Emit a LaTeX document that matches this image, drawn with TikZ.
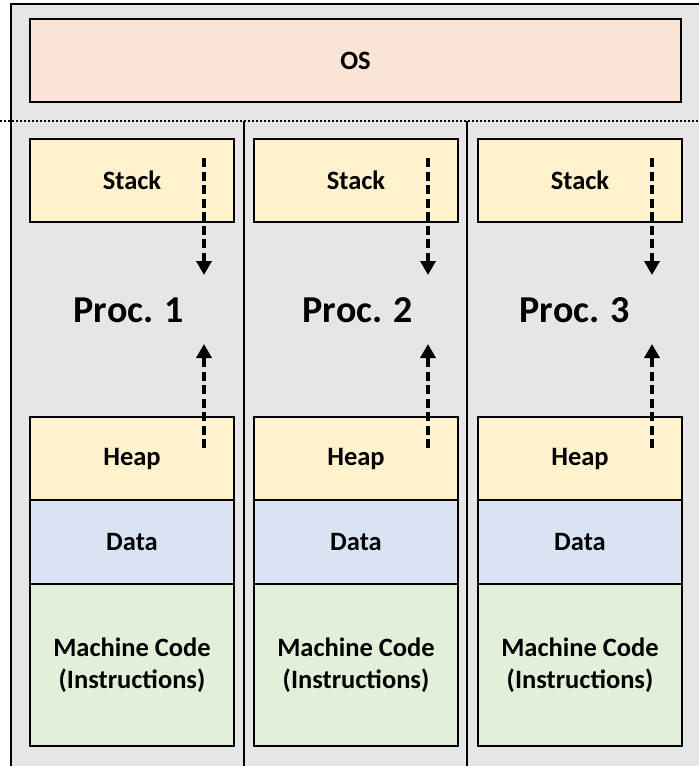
\documentclass[tikz,border=0pt]{standalone}
\usepackage{fontspec}
\setmainfont{Carlito}
\usetikzlibrary{arrows.meta}

\definecolor{bggray}{HTML}{E7E6E6}
\definecolor{osfill}{HTML}{FBE5D6}
\definecolor{segyellow}{HTML}{FFF2CC}
\definecolor{segblue}{HTML}{DAE3F3}
\definecolor{seggreen}{HTML}{E2F0D9}

\begin{document}
\begin{tikzpicture}[
  x=1pt, y=-1pt,
  font=\fontsize{26.5}{32}\selectfont\bfseries,
  seg/.style={draw, line width=2.2pt, align=center, minimum width=204pt, inner sep=0pt, outer sep=0pt},
  osbox/.style={seg, fill=osfill, minimum width=651pt, minimum height=83pt},
  stackbox/.style={seg, fill=segyellow, minimum height=83pt},
  heapbox/.style={seg, fill=segyellow, minimum height=83pt},
  databox/.style={seg, fill=segblue, minimum height=84pt},
  codebox/.style={seg, fill=seggreen, minimum height=162pt},
  proclabel/.style={font=\fontsize{38}{46}\selectfont\bfseries},
  growarrow/.style={-{Triangle[length=14pt,width=15pt]}, line width=3.5pt, dash pattern=on 9pt off 4.5pt}
]
\clip (0,0) rectangle (699,766);
\draw[line width=2.2pt, fill=bggray] (11,4) rectangle (720,790);
\draw[line width=2.2pt, dash pattern=on 2.3pt off 1.7pt] (0,121) -- (699,121);
\draw[line width=2.2pt] (244,121) -- (244,790);
\draw[line width=2.2pt] (467,121) -- (467,790);

\node[osbox] (os) at (355.5,60.5) {OS};

% process 1
\node[stackbox] (stack1) at (132,180.5) {Stack};
\node[proclabel] (proc1) at (129,310) {Proc. 1};
\node[heapbox] (heap1) at (132,458.5) {Heap};
\node[databox] (data1) at (132,542) {Data};
\node[codebox] (code1) at (132,665) {Machine Code\\(Instructions)};

% process 2
\node[stackbox] (stack2) at (356,180.5) {Stack};
\node[proclabel] (proc2) at (358,310) {Proc. 2};
\node[heapbox] (heap2) at (356,458.5) {Heap};
\node[databox] (data2) at (356,542) {Data};
\node[codebox] (code2) at (356,665) {Machine Code\\(Instructions)};

% process 3
\node[stackbox] (stack3) at (580,180.5) {Stack};
\node[proclabel] (proc3) at (575,310) {Proc. 3};
\node[heapbox] (heap3) at (580,458.5) {Heap};
\node[databox] (data3) at (580,542) {Data};
\node[codebox] (code3) at (580,665) {Machine Code\\(Instructions)};

% stack grows down, heap grows up
\coordinate (s1) at (204,158); \coordinate (s1end) at (204,275);
\coordinate (h1) at (204,448); \coordinate (h1end) at (204,344);
\coordinate (s2) at (428,158); \coordinate (s2end) at (428,275);
\coordinate (h2) at (428,448); \coordinate (h2end) at (428,344);
\coordinate (s3) at (652,158); \coordinate (s3end) at (652,275);
\coordinate (h3) at (652,448); \coordinate (h3end) at (652,344);

\draw[growarrow] (s1) -- (s1end);
\draw[growarrow] (h1) -- (h1end);
\draw[growarrow] (s2) -- (s2end);
\draw[growarrow] (h2) -- (h2end);
\draw[growarrow] (s3) -- (s3end);
\draw[growarrow] (h3) -- (h3end);
\end{tikzpicture}
\end{document}
